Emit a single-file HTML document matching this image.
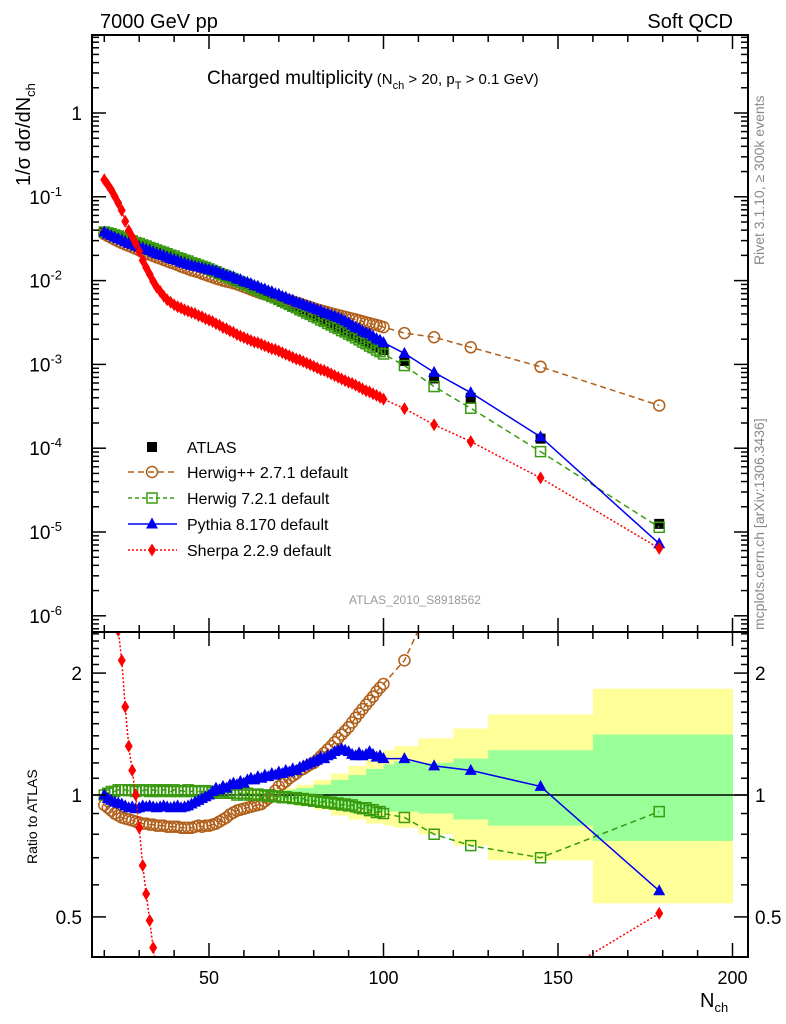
<!DOCTYPE html>
<html><head><meta charset="utf-8"><style>
html,body{margin:0;padding:0;background:#fff;}
svg{display:block;font-family:"Liberation Sans",sans-serif;}
</style></head><body>
<svg id="chart" width="786" height="1024" viewBox="0 0 786 1024" xmlns="http://www.w3.org/2000/svg">
<defs>
<clipPath id="clipTop"><rect x="92" y="35" width="656" height="597"/></clipPath>
<clipPath id="clipBot"><rect x="92" y="632" width="656" height="325"/></clipPath>
</defs>
<g id="bands" clip-path="url(#clipBot)"></g>
<g id="grid"></g>
<g id="top" clip-path="url(#clipTop)"></g>
<g id="bot" clip-path="url(#clipBot)"></g>
<rect x="92" y="35" width="656" height="597" fill="none" stroke="#000" stroke-width="2"/>
<rect x="92" y="632" width="656" height="325" fill="none" stroke="#000" stroke-width="2"/>
<g id="axes"></g>
<text x="100" y="28" font-size="20">7000 GeV pp</text>
<text x="733" y="28" font-size="20" text-anchor="end">Soft QCD</text>
<text x="207" y="84" font-size="19">Charged multiplicity<tspan font-size="15" dx="4">(N</tspan><tspan font-size="11" dy="5">ch</tspan><tspan font-size="15" dy="-5"> &gt; 20, p</tspan><tspan font-size="11" dy="5">T</tspan><tspan font-size="15" dy="-5"> &gt; 0.1 GeV)</tspan></text>
<text transform="translate(30,186) rotate(-90)" font-size="20">1/σ dσ/dN<tspan font-size="13" dy="5">ch</tspan></text>
<text transform="translate(764,265) rotate(-90)" font-size="14" fill="#888">Rivet 3.1.10, ≥ 300k events</text>
<text transform="translate(764,630) rotate(-90)" font-size="14" fill="#888">mcplots.cern.ch [arXiv:1306.3436]</text>
<text x="415" y="604" font-size="12" fill="#999" text-anchor="middle">ATLAS_2010_S8918562</text>
<text transform="translate(37,864) rotate(-90)" font-size="14">Ratio to ATLAS</text>
<text x="700" y="1007" font-size="20">N<tspan font-size="13" dy="5">ch</tspan></text>
<g id="legend"></g>
</svg>
<script>
// ---- data ----
const binCenters = [20,21,22,23,24,25,26,27,28,29,30,31,32,33,34,35,36,37,38,39,40,41,42,43,44,45,46,47,48,49,50,51,52,53,54,55,56,57,58,59,60,61,62,63,64,65,66,67,68,69,70,71,72,73,74,75,76,77,78,79,80,81,82,83,84,85,86,87,88,89,90,91,92,93,94,95,96,97,98,99,100,106,114.5,125,145,179];
const atlasValues = [.0380,.0367,.0355,.0343,.0331,.0320,.0309,.0299,.0289,.0279,.0269,.0260,.0251,.0243,.0234,.0226,.0219,.0211,.0204,.0197,.0191,.0184,.0178,.0172,.0166,.0160,.0155,.0150,.0145,.0140,.0135,.0130,.0125,.0120,.0115,.0111,.0107,.0103,.0099,.0095,.0091,.00874,.00838,.00804,.00772,.00740,.00710,.00681,.00654,.00627,.00602,.00576,.00551,.00528,.00505,.00483,.00462,.00442,.00423,.00405,.00388,.00371,.00354,.00338,.00323,.00308,.00294,.00281,.00268,.00256,.00245,.00233,.00222,.00211,.00200,.00190,.00181,.00172,.00164,.00156,.00148,.00110,6.8e-4,4.0e-4,1.30e-4,1.25e-5];
const herwigppRatio = [.945,.93,.915,.90,.89,.88,.875,.87,.865,.86,.855,.85,.85,.845,.845,.84,.84,.84,.835,.835,.835,.835,.83,.83,.83,.83,.835,.84,.835,.84,.84,.845,.85,.86,.87,.88,.895,.905,.915,.92,.925,.93,.935,.94,.945,.95,.965,.98,1.0,1.025,1.05,1.065,1.08,1.10,1.115,1.13,1.15,1.16,1.175,1.19,1.20,1.22,1.245,1.27,1.295,1.32,1.35,1.38,1.41,1.44,1.47,1.51,1.55,1.59,1.63,1.67,1.71,1.75,1.80,1.84,1.88,2.15,3.1,4.0,7.2,25.9];
const herwig7Ratio = [1.00,1.01,1.02,1.02,1.03,1.03,1.03,1.025,1.03,1.02,1.03,1.025,1.03,1.02,1.03,1.025,1.02,1.03,1.025,1.02,1.03,1.02,1.025,1.02,1.03,1.02,1.025,1.02,1.02,1.025,1.02,1.015,1.02,1.01,1.02,1.01,1.015,1.01,1.0,1.01,1.0,1.01,1.0,1.0,1.005,1.0,.995,1.0,.99,.995,.99,.985,.99,.985,.98,.985,.975,.98,.97,.975,.965,.97,.96,.965,.955,.96,.95,.955,.945,.95,.94,.945,.935,.93,.925,.93,.915,.92,.905,.91,.90,.88,.80,.75,.70,.91];
const pythiaRatio = [1.0,.98,.97,.96,.955,.95,.94,.93,.935,.925,.93,.94,.935,.94,.935,.93,.935,.94,.935,.93,.935,.94,.93,.935,.94,.95,.96,.97,.98,.99,1.0,1.02,1.04,1.03,1.05,1.04,1.06,1.07,1.06,1.08,1.07,1.09,1.10,1.09,1.11,1.10,1.12,1.11,1.13,1.12,1.14,1.13,1.15,1.14,1.16,1.15,1.17,1.18,1.19,1.20,1.21,1.22,1.24,1.23,1.25,1.26,1.28,1.29,1.30,1.29,1.28,1.26,1.25,1.27,1.25,1.26,1.28,1.26,1.24,1.25,1.23,1.23,1.18,1.15,1.05,.58];
const sherpaRatio = [4.2,3.8,3.4,2.95,2.55,2.15,1.65,1.32,1.15,1.0,.83,.67,.57,.49,.42,.37,.34,.31,.29,.28,.27,.265,.265,.26,.26,.26,.26,.255,.255,.25,.25,.25,.245,.245,.24,.24,.235,.235,.23,.23,.23,.23,.23,.23,.235,.235,.235,.235,.235,.24,.24,.24,.24,.24,.24,.24,.245,.245,.245,.245,.245,.245,.245,.25,.25,.25,.25,.25,.25,.25,.25,.255,.255,.255,.255,.255,.26,.26,.26,.26,.26,.27,.28,.30,.34,.51];
const bandEdges = [60,65,70,75,80,85,90,95,100,103,110,120,130,160,200];
const totalHi = [1.02,1.03,1.04,1.06,1.09,1.13,1.18,1.24,1.29,1.32,1.38,1.46,1.58,1.83];
const totalLo = [.98,.97,.96,.94,.92,.89,.87,.85,.84,.83,.80,.75,.69,.54];
const statHi = [1.01,1.02,1.03,1.04,1.06,1.09,1.12,1.16,1.19,1.21,1.20,1.23,1.29,1.41];
const statLo = [.99,.98,.97,.96,.95,.93,.92,.91,.91,.91,.90,.87,.84,.77];
const xTicks = [50,100,150,200];
const yExps = [0,-1,-2,-3,-4,-5,-6];
const ratioTicks = [0.5,1,2];

// ---- scales ----
const X = n => 34.5 + 3.49*n;
const Y = v => 113 - 83.8*Math.log10(v);
const R = r => 795 - 405*Math.log10(r);
const NS = "http://www.w3.org/2000/svg";
function mk(tag, parent, attrs){const e=document.createElementNS(NS,tag);for(const k in attrs)e.setAttribute(k,attrs[k]);parent.appendChild(e);return e;}

const gB=document.getElementById('bands'), gT=document.getElementById('top'), gR=document.getElementById('bot'), gA=document.getElementById('axes'), gL=document.getElementById('legend');

for(let i=0;i<bandEdges.length-1;i++){
  const x0=X(bandEdges[i]), x1=X(bandEdges[i+1]);
  const y1=mk('rect',gB,{x:x0,y:R(totalHi[i]),width:x1-x0+0.5,height:R(totalLo[i])-R(totalHi[i]),fill:'#ffff99'});
  
  
  const g1=mk('rect',gB,{x:x0,y:R(statHi[i]),width:x1-x0+0.5,height:R(statLo[i])-R(statHi[i]),fill:'#99ff99'});
  
  
}
const l1=mk('line',gR,{x1:92,x2:748,y1:R(1),y2:R(1),stroke:'#000','stroke-width':1.5});



function marker(parent,type,cx,cy,color){
  let e;
  if(type==='sq') e=mk('rect',parent,{x:cx-5,y:cy-5,width:10,height:10,fill:'#000'});
  else if(type==='osq') e=mk('rect',parent,{x:cx-5,y:cy-5,width:10,height:10,fill:'none',stroke:color,'stroke-width':1.5});
  else if(type==='circ') e=mk('circle',parent,{cx:cx,cy:cy,r:5.5,fill:'none',stroke:color,'stroke-width':1.5});
  else if(type==='tri') e=mk('polygon',parent,{points:`${cx},${cy-6.5} ${cx-6},${cy+4.5} ${cx+6},${cy+4.5}`,fill:color});
  else e=mk('polygon',parent,{points:`${cx},${cy-6.5} ${cx-4},${cy} ${cx},${cy+6.5} ${cx+4},${cy}`,fill:color});
  return e;
}
binCenters.forEach((n,i)=>{
  const m=marker(gT,'sq',X(n),Y(atlasValues[i]));
  
  
});
const series=[
 {name:'herwigpp',ratio:herwigppRatio,color:'#b0601a',type:'circ',dash:'6,4'},
 {name:'herwig7',ratio:herwig7Ratio,color:'#3a9a10',type:'osq',dash:'6,4'},
 {name:'pythia',ratio:pythiaRatio,color:'#0000ee',type:'tri',dash:''},
 {name:'sherpa',ratio:sherpaRatio,color:'#ff0000',type:'dia',dash:'2,2'}
];
series.forEach(s=>{
  const ptsT=binCenters.map((n,i)=>X(n)+','+Y(s.ratio[i]*atlasValues[i])).join(' ');
  const ptsR=binCenters.map((n,i)=>X(n)+','+R(s.ratio[i])).join(' ');
  const lt=mk('polyline',gT,{points:ptsT,fill:'none',stroke:s.color,'stroke-width':1.5,'stroke-dasharray':s.dash});
  
  
  const lr=mk('polyline',gR,{points:ptsR,fill:'none',stroke:s.color,'stroke-width':1.5,'stroke-dasharray':s.dash});
  
  
  binCenters.forEach((n,i)=>{
    const a=marker(gT,s.type,X(n),Y(s.ratio[i]*atlasValues[i]),s.color);
    
    
    const b=marker(gR,s.type,X(n),R(s.ratio[i]),s.color);
    
    
  });
});

function tick(x1,y1,x2,y2){mk('line',gA,{x1,y1,x2,y2,stroke:'#000','stroke-width':1.5});}
function label(x,y,txt,anchor,size){const t=mk('text',gA,{x,y,'font-size':size||18,'text-anchor':anchor});t.textContent=txt;return t;}
for(let n=20;n<=200;n+=10){
  const len = n%50===0?14:7, x=X(n);
  [[35,1],[632,-1],[632,1],[957,-1]].forEach(([y,d])=>tick(x,y,x,y+d*len));
}
xTicks.forEach(n=>label(X(n),984,String(n),'middle',18));
for(let e=1;e>=-7;e--){
  for(let k=1;k<10;k++){
    const y=Y(k*Math.pow(10,e));
    if(y<35||y>632) continue;
    const len=k===1?14:7;
    tick(92,y,92+len,y); tick(748,y,748-len,y);
  }
}
yExps.forEach(e=>{
  const y=Y(Math.pow(10,e));
  if(e===0){label(82,y+7,'1','end',19);}
  else{const t=label(62,y+7,'10','end',19);const s=mk('tspan',t,{'font-size':13,dy:-8});s.textContent=String(e);}
});
[0.4,0.5,0.6,0.7,0.8,0.9,1,1.1,1.2,1.3,1.4,1.5,1.6,1.7,1.8,1.9,2,2.1,2.2,2.3,2.4,2.5].forEach(r=>{
  const y=R(r); if(y<633||y>956) return;
  const len=(r===0.5||r===1||r===2)?14:7;
  tick(92,y,92+len,y); tick(748,y,748-len,y);
});
ratioTicks.forEach(r=>{const y=R(r);label(82,y+7,String(r),'end',19);label(755,y+7,String(r),'start',19);});

const legItems=[['ATLAS','sq','#000',''],['Herwig++ 2.7.1 default','circ','#b0601a','6,4'],['Herwig 7.2.1 default','osq','#3a9a10','4,3'],['Pythia 8.170 default','tri','#0000ee',''],['Sherpa 2.2.9 default','dia','#ff0000','2,2']];
const legY=[447,472,498,524,550];
legItems.forEach((it,i)=>{
  const g=mk('g',gL,{});
  
  
  if(i>0) mk('line',g,{x1:128,x2:177,y1:legY[i],y2:legY[i],stroke:it[2],'stroke-width':1.5,'stroke-dasharray':it[3]});
  marker(g,it[1],152,legY[i],it[2]);
  const t=mk('text',g,{x:187,y:legY[i]+6,'font-size':16});t.textContent=it[0];
});
</script>
</body></html>
